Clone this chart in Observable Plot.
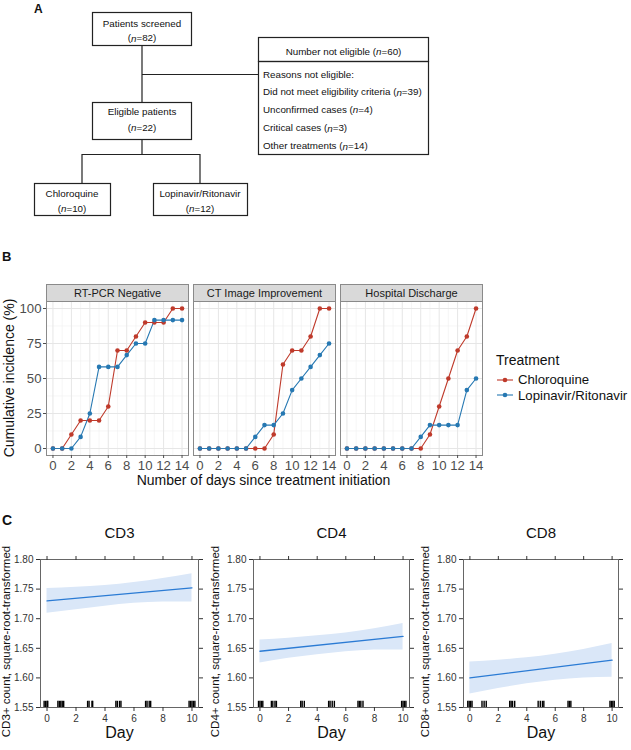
<!DOCTYPE html>
<html><head><meta charset="utf-8">
<script src="https://cdn.jsdelivr.net/npm/d3@7"></script>
<script src="https://cdn.jsdelivr.net/npm/@observablehq/plot@0.6"></script>
<style>
body{margin:0;width:631px;height:750px;position:relative;background:#fff;font-family:"Liberation Sans",Arial,sans-serif;overflow:hidden;color:#111}
.abs{position:absolute}
.lbl{position:absolute;font-weight:bold;font-size:13px}
.rot{position:absolute;transform:translate(-50%,-50%) rotate(-90deg);white-space:nowrap}
</style></head><body>
<svg class="abs" style="left:0;top:0" width="631" height="230" font-family="Liberation Sans, Arial, sans-serif" font-size="9.8" fill="#111">
<text x="34" y="12.5" font-weight="bold" font-size="12">A</text>
<g fill="none" stroke="#222" stroke-width="1.2">
<rect x="92.5" y="12.5" width="99" height="33"/>
<rect x="92.5" y="102.5" width="99" height="37"/>
<rect x="258.5" y="37.5" width="170" height="24"/>
<rect x="258.5" y="61.5" width="170" height="93"/>
<rect x="34.5" y="183.5" width="76" height="32"/>
<rect x="153.5" y="183.5" width="94" height="32"/>
<path d="M142,45.5V102.5M142,74.5H258.5M142,139.5V154.5M82,154.5H200M82,154V183.5M200,154V183.5"/>
</g>
<g text-anchor="middle" dominant-baseline="central">
<text x="142" y="23.5">Patients screened</text>
<text x="142" y="37.5">(<tspan font-style="italic">n</tspan>=82)</text>
<text x="142" y="111">Eligible patients</text>
<text x="142" y="127.3">(<tspan font-style="italic">n</tspan>=22)</text>
<text x="343.5" y="51">Number not eligible (<tspan font-style="italic">n</tspan>=60)</text>
<text x="72" y="193.3">Chloroquine</text>
<text x="72" y="208.3">(<tspan font-style="italic">n</tspan>=10)</text>
<text x="200" y="193.3">Lopinavir/Ritonavir</text>
<text x="200" y="208.3">(<tspan font-style="italic">n</tspan>=12)</text>
</g>
<g dominant-baseline="central">
<text x="263" y="74">Reasons not eligible:</text>
<text x="263" y="91.7">Did not meet eligibility criteria (<tspan font-style="italic">n</tspan>=39)</text>
<text x="263" y="109.3">Unconfirmed cases (<tspan font-style="italic">n</tspan>=4)</text>
<text x="263" y="127.7">Critical cases (<tspan font-style="italic">n</tspan>=3)</text>
<text x="263" y="145.7">Other treatments (<tspan font-style="italic">n</tspan>=14)</text>
</g>
</svg>

<div class="lbl" style="left:2px;top:249px">B</div>
<div id="B" class="abs" style="left:0;top:265px"></div>
<div class="rot" style="left:9px;top:378px;font-size:14px;color:#111">Cumulative incidence (%)</div>
<div class="abs" style="left:45px;width:437px;top:471px;text-align:center;font-size:14px;line-height:18px;color:#111">Number of days since treatment initiation</div>
<div id="legend" class="abs" style="left:496px;top:351px;font-size:14px;color:#111"></div>

<div class="lbl" style="left:2px;top:512px;font-size:14px">C</div>
<div id="C3" class="abs" style="left:0;top:520px"></div>
<div id="C4" class="abs" style="left:210px;top:520px"></div>
<div id="C8" class="abs" style="left:420px;top:520px"></div>

<script>
// ---------- Panel B data ----------
const dayValues = [0,1,2,3,4,5,6,7,8,9,10,11,12,13,14];
const outcomes = ["RT-PCR Negative","CT Image Improvement","Hospital Discharge"];
const treatments = ["Chloroquine","Lopinavir/Ritonavir"];
const rtpcrChloroquine     = [0,0,10,20,20,20,30,70,70,80,90,90,90,100,100];
const rtpcrLopinavir       = [0,0,0,8.3,25,58.3,58.3,58.3,66.7,75,75,91.7,91.7,91.7,91.7];
const ctChloroquine        = [0,0,0,0,0,0,0,0,10,60,70,70,80,100,100];
const ctLopinavir          = [0,0,0,0,0,0,8.3,16.7,16.7,25,41.7,50,58.3,66.7,75];
const dischargeChloroquine = [0,0,0,0,0,0,0,0,0,10,30,50,70,80,100];
const dischargeLopinavir   = [0,0,0,0,0,0,0,0,8.3,16.7,16.7,16.7,16.7,41.7,50];
const xTicksB = [0,2,4,6,8,10,12,14];
const xMinorB = [1,3,5,7,9,11,13];
const yTicksB = [0,25,50,75,100];
const yMinorB = [12.5,37.5,62.5,87.5];

// ---------- Panel C data ----------
const cellNames = ["CD3","CD4","CD8"];
const cellLabels = ["CD3+ count, square-root-transformed","CD4+ count, square-root-transformed","CD8+ count, square-root-transformed"];
const bandDays = [0,2,4,6,8,10];
const cd3Lower = [1.709,1.715,1.721,1.726,1.728,1.728];
const cd3Upper = [1.751,1.753,1.756,1.761,1.768,1.776];
const cd4Lower = [1.625,1.633,1.639,1.644,1.647,1.647];
const cd4Upper = [1.664,1.667,1.671,1.676,1.683,1.692];
const cd8Lower = [1.573,1.582,1.590,1.596,1.600,1.601];
const cd8Upper = [1.627,1.630,1.634,1.640,1.648,1.658];
const fitDays = [0,10];
const cd3Fit = [1.730,1.752];
const cd4Fit = [1.645,1.670];
const cd8Fit = [1.600,1.630];
const cd3Rug = [-0.2,-0.1,0,0.05,0.75,0.85,0.95,1.05,1.15,2.8,2.9,3.1,3.15,4.75,4.85,5.0,5.1,6.8,6.9,7.05,7.15,9.8,9.9,10,10.1,10.2];
const cd4Rug = [-0.1,0,0.1,0.2,0.8,0.9,1.05,1.15,2.85,2.95,3.1,4.8,4.9,5.05,5.2,6.85,6.95,7.05,7.2,9.9,10,10.1,10.2];
const cd8Rug = [-0.15,-0.05,0.05,0.15,0.85,1.0,1.15,2.8,2.9,3.0,3.15,4.8,4.95,5.1,5.2,6.9,7.0,7.1,9.85,9.95,10.05,10.15];
const xTicksC = [0,2,4,6,8,10];
const yTicksC = [1.55,1.60,1.65,1.70,1.75,1.80];

const red = "#bf3a2b", blue = "#2678b2";
const font = "Liberation Sans, Arial, sans-serif";

// ---------- Panel B ----------
const seriesB = [
  [outcomes[0], treatments[0], rtpcrChloroquine],
  [outcomes[1], treatments[0], ctChloroquine],
  [outcomes[2], treatments[0], dischargeChloroquine],
  [outcomes[0], treatments[1], rtpcrLopinavir],
  [outcomes[1], treatments[1], ctLopinavir],
  [outcomes[2], treatments[1], dischargeLopinavir]
];
const rowsB = seriesB.flatMap(([outcome, treatment, vals]) =>
  vals.map((v, i) => ({outcome, treatment, day: dayValues[i], value: v})));

const plotB = Plot.plot({
  width: 631, height: 225,
  marginLeft: 45, marginRight: 149, marginTop: 36, marginBottom: 35,
  style: {fontFamily: font, background: "transparent"},
  fx: {domain: outcomes, paddingInner: 0.035, paddingOuter: 0, axis: null, label: null},
  x: {domain: [-0.7, 14.7], axis: null},
  y: {domain: [-5, 105], axis: null},
  color: {domain: treatments, range: [red, blue]},
  marks: [
    Plot.frame({fill: "white"}),
    Plot.gridX({ticks: xMinorB, stroke: "#f0f0f0", strokeOpacity: 1, strokeWidth: 0.6}),
    Plot.gridY({ticks: yMinorB, stroke: "#f0f0f0", strokeOpacity: 1, strokeWidth: 0.6}),
    Plot.gridX({ticks: xTicksB, stroke: "#e6e6e6", strokeOpacity: 1, strokeWidth: 1}),
    Plot.gridY({ticks: yTicksB, stroke: "#e6e6e6", strokeOpacity: 1, strokeWidth: 1}),
    Plot.line(rowsB, {x: "day", y: "value", z: "treatment", stroke: "treatment", fx: "outcome", strokeWidth: 1.1}),
    Plot.dot(rowsB, {x: "day", y: "value", fill: "treatment", fx: "outcome", r: 2.3}),
    Plot.frame({stroke: "#8a8a8a", strokeWidth: 1}),
    Plot.frame({fill: "#d9d9d9", stroke: "#8a8a8a", strokeWidth: 1, insetTop: -17, insetBottom: 154}),
    Plot.text(outcomes, {fx: d => d, text: d => d, frameAnchor: "top", lineAnchor: "middle", dy: -8.5, fontSize: 11, fill: "#1a1a1a"}),
    Plot.axisX({ticks: xTicksB, tickSize: 3, tickPadding: 2, fontSize: 13.2, color: "#4d4d4d", label: null}),
    Plot.axisY({ticks: yTicksB, tickSize: 3, tickPadding: 2, fontSize: 13.2, color: "#4d4d4d", label: null})
  ]
});
document.getElementById("B").appendChild(plotB);

// Legend
const leg = document.getElementById("legend");
leg.innerHTML = `<div style="line-height:18px;margin-bottom:3px">Treatment</div>` +
  treatments.map((t, i) => `<div style="display:flex;align-items:center;height:15.5px;white-space:nowrap">
    <svg width="20" height="10" style="margin-right:2px"><line x1="1" x2="17" y1="5" y2="5" stroke="${[red, blue][i]}" stroke-width="1.1"/><circle cx="9" cy="5" r="2.3" fill="${[red, blue][i]}"/></svg>
    <span style="font-size:13.2px">${t}</span></div>`).join("");

// ---------- Panel C ----------
const cellData = [
  [cd3Lower, cd3Upper, cd3Fit, cd3Rug, "C3", 40, 12, 210, -34],
  [cd4Lower, cd4Upper, cd4Fit, cd4Rug, "C4", 43, 11, 210, -38],
  [cd8Lower, cd8Upper, cd8Fit, cd8Rug, "C8", 43, 13, 211, -38]
];
cellData.forEach(([lo, hi, fit, rug, id, ml, mr, w, ldx], k) => {
  const band = bandDays.map((d, i) => ({day: d, lo: lo[i], hi: hi[i]}));
  const line = fitDays.map((d, i) => ({day: d, v: fit[i]}));
  const p = Plot.plot({
    width: w, height: 230,
    marginLeft: ml, marginRight: mr, marginTop: 39, marginBottom: 43,
    style: {fontFamily: font, background: "transparent", overflow: "visible"},
    x: {domain: [-0.45, 10.45], axis: null},
    y: {domain: [1.55, 1.80], axis: null},
    marks: [
      Plot.areaY(band, {x: "day", y1: "lo", y2: "hi", fill: "#dae7f8", curve: "natural"}),
      Plot.line(line, {x: "day", y: "v", stroke: "#2b7bd4", strokeWidth: 1.3}),
      Plot.ruleX(rug, {x: d => d, y1: 1.55, y2: 1.5605, stroke: "#000", strokeWidth: 1.4}),
      Plot.frame({stroke: "#666", strokeWidth: 1}),
      Plot.axisX({ticks: xTicksC, tickSize: 4, tickPadding: 3, fontSize: 10, color: "#333", label: null}),
      Plot.axisX({anchor: "top", ticks: xTicksC, tickSize: 4, tickFormat: () => "", color: "#333", label: null}),
      Plot.axisY({ticks: yTicksC, tickSize: 4, tickPadding: 3, fontSize: 10, color: "#333", tickFormat: d3.format(".2f"), label: null}),
      Plot.axisY({anchor: "right", ticks: yTicksC, tickSize: 4, tickFormat: () => "", color: "#333", label: null}),
      Plot.text([cellNames[k]], {text: d => d, frameAnchor: "top", lineAnchor: "middle", dy: -26, fontSize: 15, fill: "#111"}),
      Plot.text(["Day"], {text: d => d, frameAnchor: "bottom", lineAnchor: "middle", dy: 25, fontSize: 16, fill: "#111"}),
      Plot.text([cellLabels[k]], {text: d => d, frameAnchor: "left", textAnchor: "middle", lineAnchor: "middle", rotate: -90, dx: ldx, dy: 8, fontSize: 11.5, fill: "#111"})
    ]
  });
  document.getElementById(id).appendChild(p);
});
</script>
</body></html>
